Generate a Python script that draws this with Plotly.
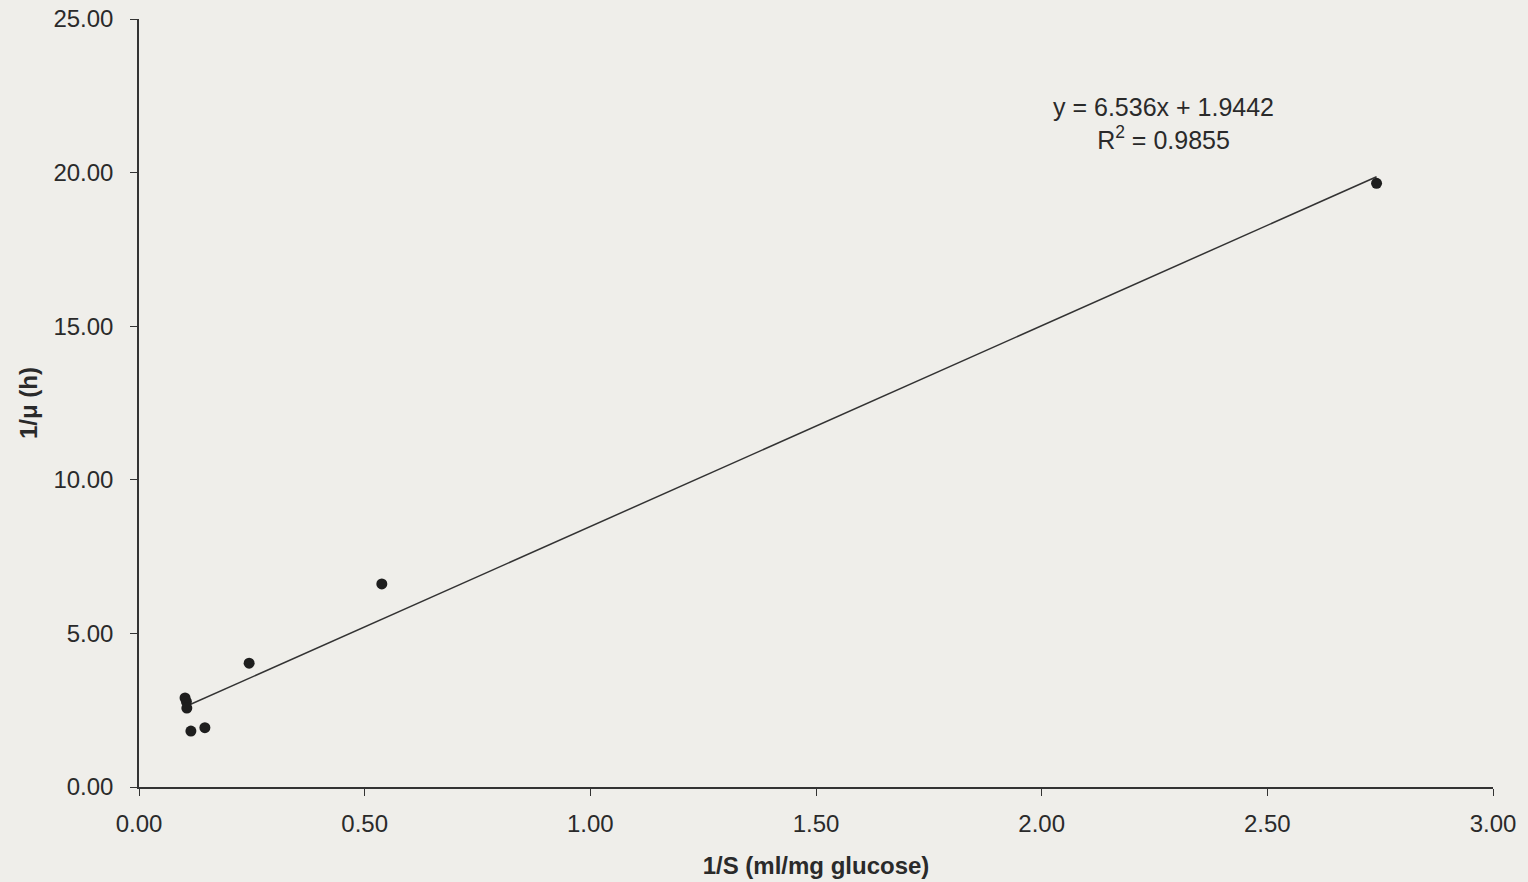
import plotly.graph_objects as go

# Data
inv_s = [0.102, 0.105, 0.106, 0.115, 0.146, 0.244, 0.538, 2.742]
inv_mu = [2.90, 2.78, 2.57, 1.82, 1.93, 4.03, 6.61, 19.65]

slope = 6.536
intercept = 1.9442
r2 = 0.9855

x_ticks = [0.0, 0.5, 1.0, 1.5, 2.0, 2.5, 3.0]
y_ticks = [0.0, 5.0, 10.0, 15.0, 20.0, 25.0]

x_line = [min(inv_s), max(inv_s)]
y_line = [slope * v + intercept for v in x_line]

fig = go.Figure()
fig.add_trace(go.Scatter(x=x_line, y=y_line, mode="lines",
                         line=dict(color="#333333", width=1.5),
                         showlegend=False, hoverinfo="skip"))
fig.add_trace(go.Scatter(x=inv_s, y=inv_mu, mode="markers",
                         marker=dict(color="#1e1e1e", size=11),
                         showlegend=False))

FAM = "Liberation Sans, Arial"
TXT = "#2a2a2a"

fig.add_annotation(x=2.269, y=21.6, xref="x", yref="y",
                   text=f"y = {slope}x + {intercept}<br>R<sup>2</sup> = {r2}",
                   showarrow=False, align="center",
                   font=dict(family=FAM, size=25, color=TXT))

fig.update_layout(
    width=1528, height=882,
    margin=dict(l=139, r=35, t=19, b=95),
    paper_bgcolor="#efeeea", plot_bgcolor="#efeeea",
    font=dict(family=FAM, size=24, color=TXT),
    xaxis=dict(range=[0, 3], tickvals=x_ticks, ticktext=[f"{v:.2f}" for v in x_ticks],
               showgrid=False, zeroline=False, showline=True, linecolor="#333333",
               linewidth=1.5, ticks="outside", ticklen=7, tickcolor="#333333",
               ticklabelstandoff=7, automargin=False,
               title=dict(text="<b>1/S (ml/mg glucose)</b>", standoff=22,
                          font=dict(family=FAM, size=24, color=TXT))),
    yaxis=dict(range=[0, 25], tickvals=y_ticks, ticktext=[f"{v:.2f}" for v in y_ticks],
               showgrid=False, zeroline=False, showline=True, linecolor="#333333",
               linewidth=1.5, ticks="outside", ticklen=7, tickcolor="#333333",
               ticklabelstandoff=12, automargin=False,
               title=dict(text="<b>1/μ (h)</b>", standoff=9,
                          font=dict(family=FAM, size=24, color=TXT))),
)

fig.write_html("out.html", config={"displayModeBar": False})

with open("out.html", "r", encoding="utf-8") as f:
    html = f.read()
html = html.replace("<head>", "<head><style>html,body{margin:0;padding:0;overflow:hidden;background:#efeeea;}</style>", 1)
with open("out.html", "w", encoding="utf-8") as f:
    f.write(html)
